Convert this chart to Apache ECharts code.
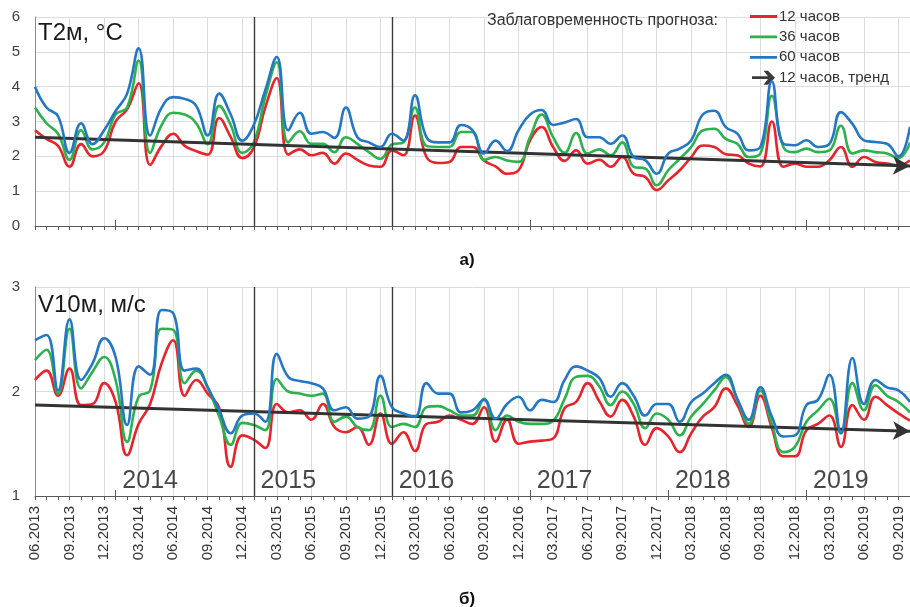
<!DOCTYPE html>
<html><head><meta charset="utf-8">
<script src="https://cdn.jsdelivr.net/npm/echarts@6/dist/echarts.min.js"></script>
<style>html,body{margin:0;padding:0;background:#fff}#c{width:910px;height:607px}</style>
</head><body><div id="c"></div>
<script>
// categories: monthly, 06.2013 .. 10.2019
const months = [];
for (let i = 0; i < 77; i++) {
  const m = (5 + i) % 12 + 1, y = 2013 + Math.floor((5 + i) / 12);
  months.push(String(m).padStart(2, '0') + '.' + y);
}
const seriesNames = ['12 часов', '36 часов', '60 часов', '12 часов, тренд'];
// T2m (°C)
const t12 = [2.75,2.5,2.3,1.7,2.35,2.0,2.15,3.0,3.35,4.1,1.75,2.3,2.65,2.3,2.15,2.05,3.1,2.55,1.95,2.25,3.4,4.25,2.05,2.2,2.03,2.1,1.79,2.08,1.9,1.74,1.7,2.17,2.03,3.17,1.98,1.81,1.84,2.27,2.27,1.88,1.71,1.5,1.6,2.46,2.84,2.27,1.87,2.17,1.79,1.9,1.7,1.98,1.5,1.41,1.03,1.31,1.6,1.98,2.31,2.27,2.06,2.03,1.79,1.71,3.0,1.7,1.79,1.7,1.7,1.89,2.27,1.7,1.98,1.84,1.79,1.74,1.89];
const t36 = [3.4,2.95,2.65,1.9,2.75,2.2,2.4,3.2,3.4,4.75,2.1,2.9,3.25,3.2,2.95,2.35,3.45,2.9,2.1,2.4,3.7,4.7,2.4,2.72,2.36,2.36,2.12,2.55,2.36,2.12,1.93,2.34,2.4,3.4,2.3,2.27,2.27,2.7,2.7,1.9,1.98,1.88,1.84,2.55,3.2,2.55,2.1,2.67,2.08,2.2,2.03,2.4,1.7,1.65,1.17,1.6,1.93,2.27,2.74,2.79,2.5,2.36,1.98,2.08,3.74,2.27,2.12,2.22,2.12,2.17,2.88,2.08,2.17,2.12,2.08,1.95,2.4];
const t60 = [4.0,3.4,3.15,2.1,2.95,2.35,2.75,3.3,3.8,5.1,2.6,3.4,3.7,3.65,3.45,2.6,3.8,3.2,2.45,2.9,3.9,4.85,2.75,3.25,2.65,2.7,2.53,3.4,2.55,2.4,2.27,2.65,2.45,3.75,2.55,2.4,2.4,2.9,2.75,2.08,2.45,2.15,2.75,3.2,3.33,2.9,2.97,3.07,2.55,2.55,2.36,2.6,1.98,1.89,1.5,2.08,2.22,2.46,3.2,3.31,2.84,2.65,2.17,2.27,4.15,2.36,2.32,2.46,2.27,2.36,3.27,2.93,2.46,2.41,2.36,2.0,2.85];
const tTrend = [2.55, 1.72];
// V10m (m/s)
const v12 = [2.11,2.2,1.96,2.22,1.87,1.88,2.08,1.9,1.39,1.69,1.88,2.27,2.49,1.96,2.11,1.98,1.84,1.28,1.58,1.54,1.46,1.88,1.8,1.82,1.73,1.88,1.66,1.61,1.66,1.49,1.79,1.5,1.61,1.43,1.69,1.71,1.77,1.73,1.69,1.85,1.52,1.73,1.5,1.52,1.53,1.55,1.84,1.9,2.08,1.91,1.76,1.92,1.76,1.49,1.65,1.57,1.42,1.6,1.76,1.85,2.03,1.87,1.66,1.96,1.65,1.38,1.38,1.63,1.69,1.77,1.47,1.87,1.73,1.95,1.87,1.79,1.72];
const v36 = [2.3,2.4,1.98,2.6,2.03,2.19,2.33,2.11,1.52,1.95,2.01,2.6,2.59,2.08,2.2,2.04,1.76,1.49,1.7,1.68,1.63,2.12,2.0,1.98,1.96,1.98,1.71,1.76,1.66,1.63,1.96,1.66,1.69,1.66,1.85,1.86,1.82,1.77,1.77,1.93,1.63,1.77,1.71,1.69,1.69,1.72,1.93,2.14,2.15,2.05,1.87,2.0,1.88,1.65,1.79,1.73,1.58,1.76,1.88,2.01,2.14,1.92,1.69,2.01,1.69,1.42,1.47,1.71,1.82,1.93,1.6,2.08,1.82,2.06,1.96,1.9,1.8];
const v60 = [2.49,2.54,2.01,2.69,2.11,2.27,2.51,2.33,1.68,2.24,2.16,2.78,2.75,2.2,2.22,2.04,1.82,1.6,1.77,1.79,1.71,2.36,2.14,2.1,2.08,2.03,1.82,1.85,1.74,1.76,2.15,1.85,1.79,1.76,2.08,1.98,1.98,1.8,1.82,1.92,1.74,1.88,1.95,1.82,1.92,1.9,2.11,2.24,2.2,2.13,1.95,2.08,1.96,1.77,1.88,1.88,1.71,1.9,1.98,2.08,2.16,1.93,1.73,2.04,1.76,1.57,1.58,1.87,1.92,2.16,1.6,2.32,1.88,2.11,2.04,2.01,1.9];
const vTrend = [1.87, 1.62];
const years = ['2014','2015','2016','2017','2018','2019'];
const yearLabelAt = ['04.2014','04.2015','04.2016','04.2017','04.2018','04.2019'];
const dividers = ['01.2015','01.2016'];
const tTicks = [0,1,2,3,4,5,6];
const vTicks = [1,2,3];

const colors = ['#e8232b','#2bb24c','#2377c4'];
const FONT = 'Liberation Sans, Arial, sans-serif';
const LINE_ICON = 'path://M0,0 L0.001,0 M0,5.6 L27,5.6 L27,8.4 L0,8.4 Z M0,14 L0.001,14';
const ARROW_ICON = 'path://M0,5.6 L16,5.6 L11.5,0 L16,0 L23,7 L16,14 L11.5,14 L16,8.4 L0,8.4 Z';

function xAxes(grid, labels) {
  return [{
    type: 'category', gridIndex: grid, data: months, boundaryGap: false,
    axisLine: {lineStyle: {color: '#595959', width: 1}},
    axisTick: {interval: 0, length: 4, lineStyle: {color: '#595959'}},
    axisLabel: labels ? {interval: 2, rotate: 90, fontSize: 15, color: '#333', fontFamily: FONT, margin: 10} : {show: false},
    splitLine: {show: true, interval: 2, lineStyle: {color: '#dcdcdc', width: 1}}
  }, {
    type: 'category', gridIndex: grid, data: months, boundaryGap: false, position: 'bottom',
    axisLine: {show: false},
    axisTick: {inside: true, length: 6, interval: (i, v) => v.startsWith('01.'), lineStyle: {color: '#595959'}},
    axisLabel: {show: false}, splitLine: {show: false}
  }];
}
function yAxis(grid, min, max) {
  return {
    type: 'value', gridIndex: grid, min, max, interval: 1,
    axisLine: {show: true, lineStyle: {color: '#8c8c8c'}},
    axisTick: {show: false},
    axisLabel: {fontSize: 15, color: '#404040', fontFamily: FONT, margin: 15},
    splitLine: {lineStyle: {color: '#dcdcdc'}}
  };
}
function lines(grid, arrs, trend, divSpan) {
  const xi = grid * 2;
  const out = arrs.map((a, k) => ({
    name: seriesNames[k], type: 'line', xAxisIndex: xi, yAxisIndex: grid, data: a,
    smooth: 0.45, symbol: 'none', showSymbol: false, lineStyle: {width: 2.6, color: colors[k]}, itemStyle: {color: colors[k]},
    z: 3 + k, animation: false
  }));
  out[0].markLine = {
    silent: true, symbol: 'none', label: {show: false}, animation: false,
    lineStyle: {color: '#3c3c3c', width: 1.4, type: 'solid'},
    data: dividers.map(d => [{coord: [d, divSpan[0]]}, {coord: [d, divSpan[1]]}])
  };
  out.push({
    name: seriesNames[3], type: 'line', xAxisIndex: xi, yAxisIndex: grid, data: [],
    symbol: 'none', itemStyle: {color: '#3a3a3a'}, lineStyle: {color: '#3a3a3a', width: 3}, z: 8,
    markLine: {
      silent: true, symbol: ['none', 'arrow'], symbolSize: [14, 17], label: {show: false}, animation: false,
      lineStyle: {color: '#333', width: 3, type: 'solid'},
      data: [[{coord: [months[0], trend[0]]}, {coord: [months[months.length - 1], trend[1]]}]]
    }
  });
  return out;
}

const chart = echarts.init(document.getElementById('c'));
const series = [...lines(0, [t12, t36, t60], tTrend, [tTicks[0], tTicks[tTicks.length - 1]]),
                ...lines(1, [v12, v36, v60], vTrend, [vTicks[0], vTicks[vTicks.length - 1]])];
series.push({
  type: 'scatter', xAxisIndex: 2, yAxisIndex: 1, symbolSize: 0, silent: true,
  data: yearLabelAt.map(m => [m, 1.145]),
  label: {show: true, position: 'inside', formatter: p => years[p.dataIndex], fontSize: 25, color: '#1a1a1a', fontFamily: FONT}
});
chart.setOption({
  animation: false,
  title: [
    {text: 'T2м, °C', left: 33, top: 16, textStyle: {fontSize: 24, fontWeight: 'normal', color: '#1a1a1a', fontFamily: FONT}},
    {text: 'V10м, м/с', left: 33, top: 288, textStyle: {fontSize: 24, fontWeight: 'normal', color: '#1a1a1a', fontFamily: FONT}},
    {text: 'Заблаговременность прогноза:', left: 482, top: 8, textStyle: {fontSize: 16, fontWeight: 'normal', color: '#333', fontFamily: FONT}},
    {text: 'а)', left: 462, top: 247, textAlign: 'center', textStyle: {fontSize: 17, fontWeight: 'bold', color: '#111', fontFamily: FONT}},
    {text: 'б)', left: 462, top: 586, textAlign: 'center', textStyle: {fontSize: 17, fontWeight: 'bold', color: '#111', fontFamily: FONT}}
  ],
  legend: {
    orient: 'vertical', left: 750, top: 9, padding: 0, itemWidth: 27, itemHeight: 14, itemGap: 5.4,
    itemStyle: {borderWidth: 0},
    textStyle: {fontSize: 15, color: '#333', fontFamily: FONT, padding: [0, 0, 0, -3]},
    data: [
      {name: seriesNames[0], icon: LINE_ICON, itemStyle: {color: colors[0]}},
      {name: seriesNames[1], icon: LINE_ICON, itemStyle: {color: colors[1]}},
      {name: seriesNames[2], icon: LINE_ICON, itemStyle: {color: colors[2]}},
      {name: seriesNames[3], icon: ARROW_ICON, itemStyle: {color: '#3a3a3a'}}
    ]
  },
  grid: [
    {left: 35, right: 0, top: 17, height: 209},
    {left: 35, right: 0, top: 287, height: 209}
  ],
  xAxis: [...xAxes(0, false), ...xAxes(1, true)],
  yAxis: [yAxis(0, tTicks[0], tTicks[tTicks.length - 1]), yAxis(1, vTicks[0], vTicks[vTicks.length - 1])],
  series
});
</script></body></html>
